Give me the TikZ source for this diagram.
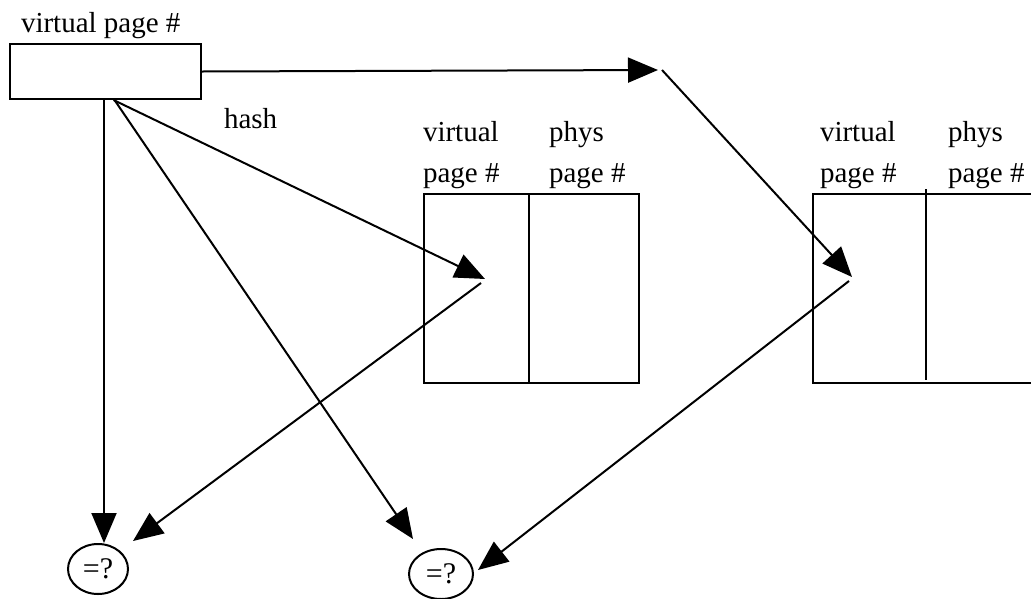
\documentclass[tikz,border=0pt]{standalone}
\usepackage{fontspec}
\setmainfont{Liberation Serif}
\usetikzlibrary{arrows.meta,shapes.geometric}

\begin{document}
\begin{tikzpicture}[x=1pt,y=-1pt,line width=2pt,
  arr/.style={-{Triangle[length=30pt,width=25pt]}},
  lbl/.style={anchor=base west,font=\fontsize{29}{35}\selectfont},
  cell/.style={draw,minimum height=189pt}]
\tikzstyle{every node}+=[inner sep=0pt]
\clip (0,0) rectangle (1031,598);
% key box
\node [draw,minimum width=191pt,minimum height=55pt] (vpn) at (105.5,71.5) {};
\node [lbl] (vpnlbl) at (20,32) {virtual page \#};
\node [lbl] (hash) at (223,128) {hash};
% first table
\node [cell,minimum width=105pt] (t1v) at (476.5,288.5) {};
\node [cell,minimum width=110pt] (t1p) at (584,288.5) {};
\node [lbl] (t1a) at (422,141) {virtual};
\node [lbl] (t1b) at (422,182) {page \#};
\node [lbl] (t1c) at (548,141) {phys};
\node [lbl] (t1d) at (548,182) {page \#};
% second table
\node [cell,minimum width=232pt] (t2) at (929,288.5) {};
\node [lbl] (t2a) at (819,141) {virtual};
\node [lbl] (t2b) at (819,182) {page \#};
\node [lbl] (t2c) at (947,141) {phys};
\node [lbl] (t2d) at (947,182) {page \#};
\coordinate (d1) at (926,189);
\coordinate (d2) at (926,380);
\draw (d1) -- (d2);
% compare
\node [draw,ellipse,minimum width=60pt,minimum height=50pt,font=\fontsize{30}{35}\selectfont] (e1) at (98,569) {=?};
\node [draw,ellipse,minimum width=64pt,minimum height=50pt,font=\fontsize{30}{35}\selectfont] (e2) at (441,574) {=?};
% free ends
\coordinate (h1) at (485,279);
\coordinate (h1o) at (481,283);
\coordinate (bend) at (658,70);
\coordinate (bendo) at (662,70);
\coordinate (h2) at (852,277);
\coordinate (h2o) at (849,281);
\coordinate (q1) at (133,541);
\coordinate (q2) at (413,539);
\coordinate (q3) at (478,570);
% arrows
\draw [arr] ([xshift=-1.5pt]vpn.south) -- ([xshift=-1.5pt]vpn.south |- e1.north);
\draw [arr] ([xshift=8pt]vpn.south) -- (h1);
\draw [arr] (h1o) -- (q1);
\draw [arr] ([xshift=9pt]vpn.south) -- (q2);
\draw [arr] (vpn.east) -- (bend);
\draw [arr] (bendo) -- (h2);
\draw [arr] (h2o) -- (q3);
\end{tikzpicture}
\end{document}
